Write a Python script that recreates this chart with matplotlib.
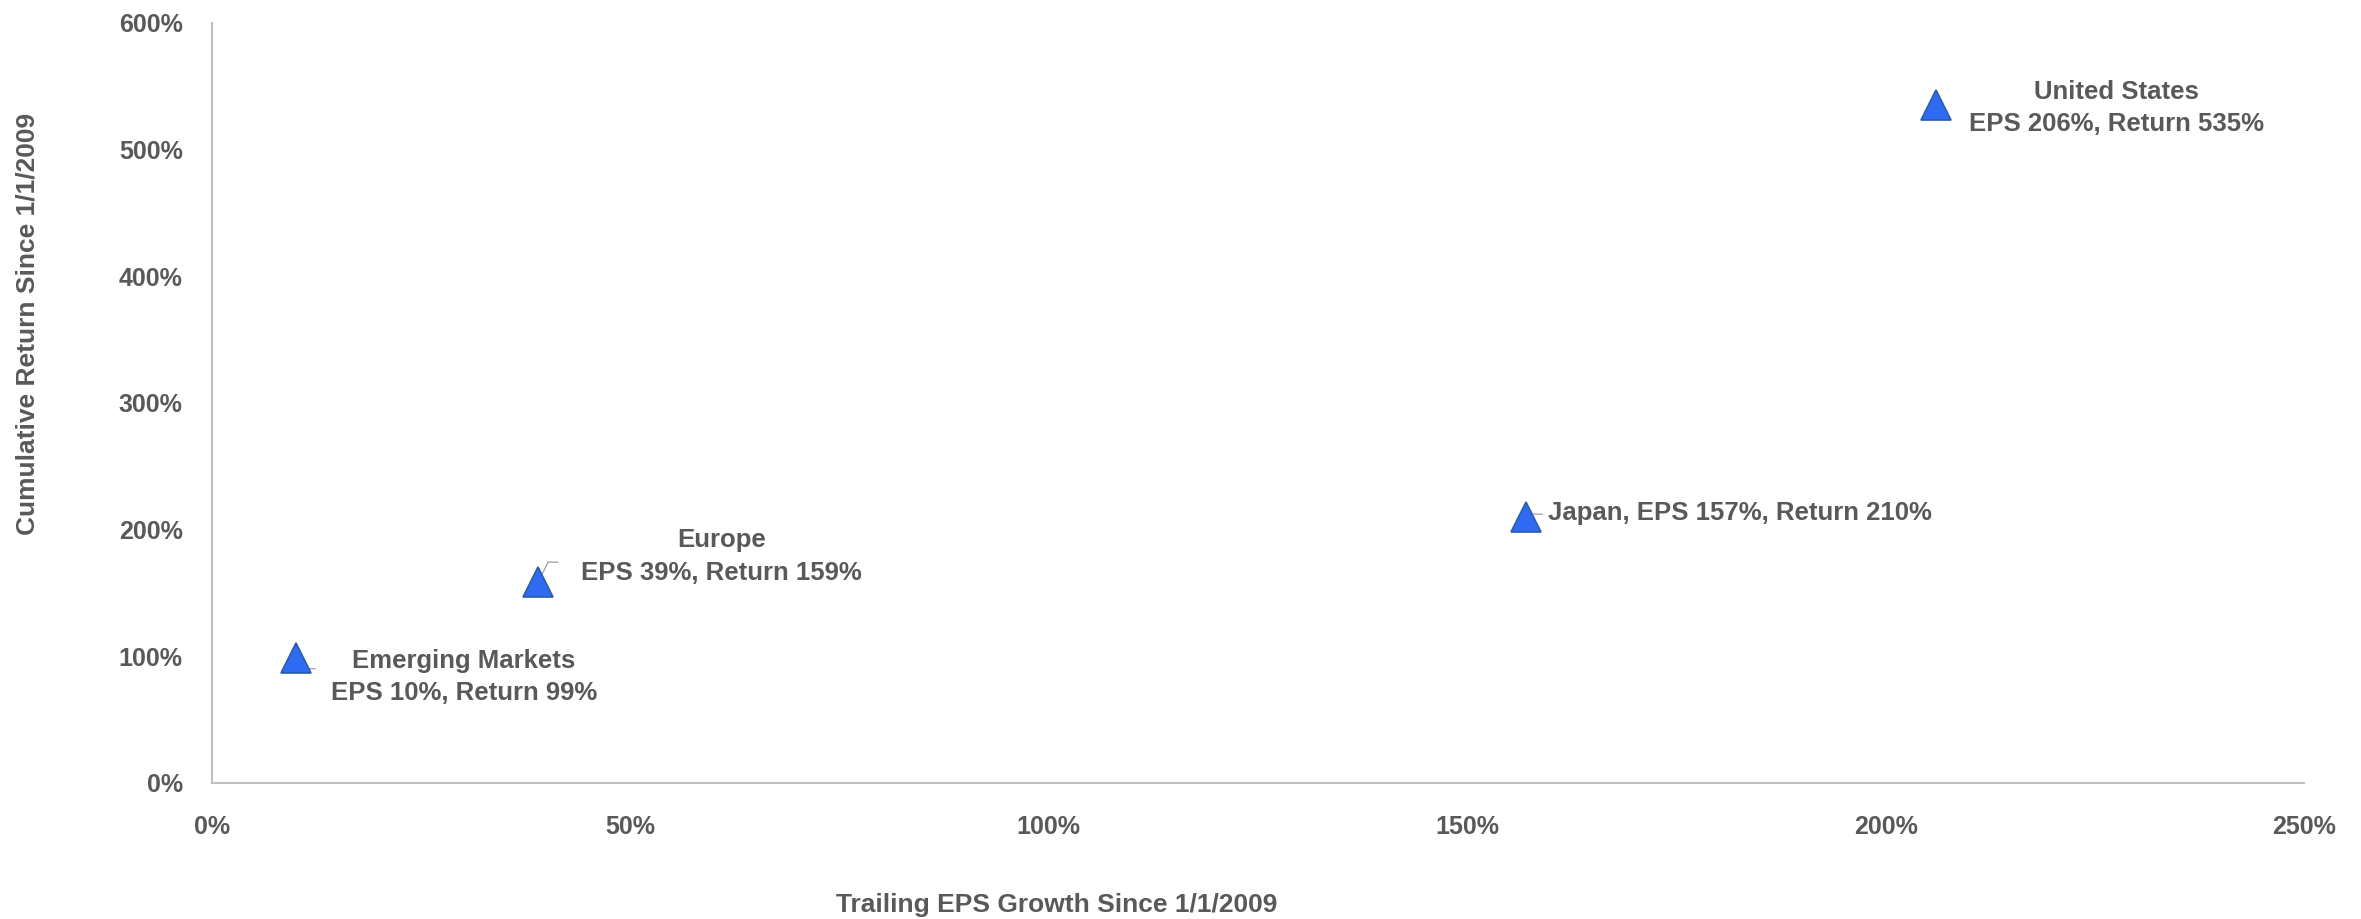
import matplotlib
matplotlib.use("Agg")
import matplotlib.pyplot as plt
from matplotlib.ticker import FuncFormatter
from matplotlib.transforms import offset_copy

plt.rcParams['font.family'] = ['Liberation Sans Narrow', 'Liberation Sans', 'DejaVu Sans']

regions = ["Emerging Markets", "Europe", "Japan", "United States"]
eps_growth = [10, 39, 157, 206]
cum_return = [99, 159, 210, 535]
labels = ["Emerging Markets\nEPS 10%, Return 99%",
          "Europe\nEPS 39%, Return 159%",
          "Japan, EPS 157%, Return 210%",
          "United States\nEPS 206%, Return 535%"]
x_ticks = [0, 50, 100, 150, 200, 250]
y_ticks = [0, 100, 200, 300, 400, 500, 600]

TXT = '#595959'
fig = plt.figure(figsize=(23.61, 9.19), dpi=100)
ax = fig.add_axes([0.0898, 0.148, 0.9759 - 0.0898, 0.975 - 0.148])

ax.plot(eps_growth, cum_return, linestyle='none', marker='^', markersize=21,
        markerfacecolor='#2F6BF2', markeredgecolor='#2A5CA8', markeredgewidth=1.2, zorder=3)

# label offsets (points) and alignment
offsets = [(121, -14), (132, 18), (16, 3), (130, -2)]
has = ['center', 'center', 'left', 'center']
leaders = [((9, -8), (14, -8)), ((7, 14), (14, 14)), ((5, 2), (12, 2)), None]
for x, y, lab, off, ha, ld in zip(eps_growth, cum_return, labels, offsets, has, leaders):
    ax.annotate(lab, xy=(x, y), xytext=off, textcoords='offset points',
                ha=ha, va='center', fontsize=18.5, fontweight='bold', color=TXT,
                linespacing=1.45, zorder=4)
    if ld is not None:
        (x1, y1), (x2, y2) = ld
        ax.annotate('', xy=(x, y), xytext=(x1, y1), textcoords='offset points',
                    arrowprops=dict(arrowstyle='-', color='#A6A6A6', lw=1.0,
                                    shrinkA=0, shrinkB=0), zorder=2)
        tr1 = offset_copy(ax.transData, fig=fig, x=x1, y=y1, units='points')
        tr2 = offset_copy(ax.transData, fig=fig, x=x2, y=y2, units='points')
        ax.annotate('', xy=(x, y), xycoords=tr2, xytext=(x, y), textcoords=tr1,
                    arrowprops=dict(arrowstyle='-', color='#A6A6A6', lw=1.0,
                                    shrinkA=0, shrinkB=0), zorder=2)

ax.set_xlim(0, 250)
ax.set_ylim(0, 600)
ax.set_xticks(x_ticks)
ax.set_yticks(y_ticks)
ax.xaxis.set_major_formatter(FuncFormatter(lambda v, p: f"{v:.0f}%"))
ax.yaxis.set_major_formatter(FuncFormatter(lambda v, p: f"{v:.0f}%"))
ax.tick_params(axis='both', length=0, labelsize=18, labelcolor=TXT)
ax.tick_params(axis='y', pad=21)
ax.tick_params(axis='x', pad=23)
for lab in ax.get_xticklabels() + ax.get_yticklabels():
    lab.set_fontweight('bold')

for s in ['top', 'right']:
    ax.spines[s].set_visible(False)
for s in ['left', 'bottom']:
    ax.spines[s].set_color('#BFBFBF')
    ax.spines[s].set_linewidth(1.5)

fig.text(0.0115, 0.648, "Cumulative Return Since 1/1/2009", rotation=90,
         ha='center', va='center', fontsize=19, fontweight='bold', color=TXT)
fig.text(0.4477, 0.0155, "Trailing EPS Growth Since 1/1/2009",
         ha='center', va='center', fontsize=19, fontweight='bold', color=TXT)

fig.savefig("out.png", dpi=100, facecolor='white')
